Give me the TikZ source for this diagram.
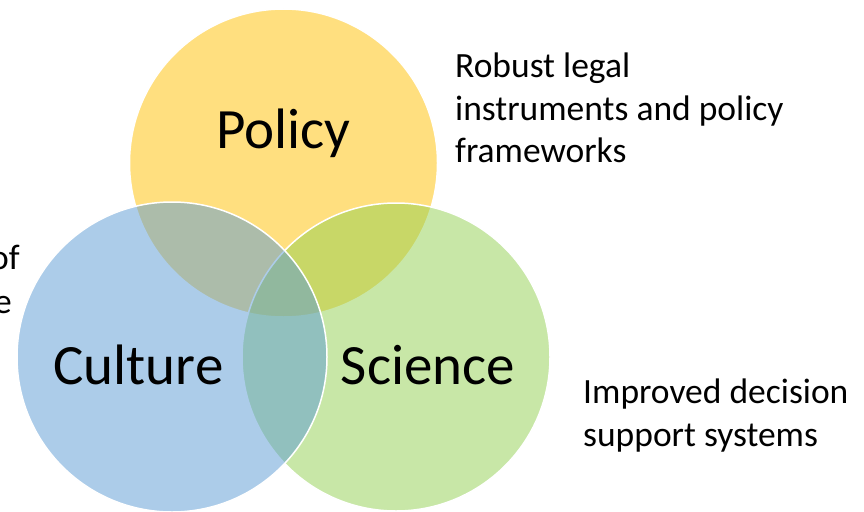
\documentclass[tikz,border=0pt]{standalone}
\usepackage{fontspec}
\setmainfont{Carlito}
\definecolor{policyyellow}{HTML}{FFC000}
\definecolor{cultureblue}{HTML}{5B9BD5}
\definecolor{sciencegreen}{HTML}{92D050}

\begin{document}
\begin{tikzpicture}[x=1pt, y=-1pt,
	venn/.style={draw=white, line width=1.5pt, fill opacity=0.5},
	bigword/.style={font=\fontsize{57}{68}\selectfont, inner sep=0pt, anchor=base},
	note/.style={font=\fontsize{35.5}{42.5}\selectfont, inner sep=0pt, align=left, anchor=north west}]
		\useasboundingbox (0,0) rectangle (864,511);
		\fill[white] (0,0) rectangle (864,511);
		% the three circles
		\draw[venn, fill=policyyellow] (283.5,163) circle (154);
		\draw[venn, fill=sciencegreen] (396,357) circle (154);
		\draw[venn, fill=cultureblue] (172,357) circle (155);
		% labels
		\node[bigword] (policy) at (283.5,148) {Policy};
		\node[bigword] (culture) at (138.5,384) {Culture};
		\node[bigword] (science) at (428,384) {Science};
		\node[note] (legal) at (455,53) {Robust legal\\instruments and policy\\frameworks};
		\node[note] (decision) at (583,379) {Improved decision\\support systems};
		\node[note, anchor=base east] (ofword) at (20,269) {of};
		\node[note, anchor=base east] (eword) at (12,313) {e};
	\end{tikzpicture}
\end{document}
